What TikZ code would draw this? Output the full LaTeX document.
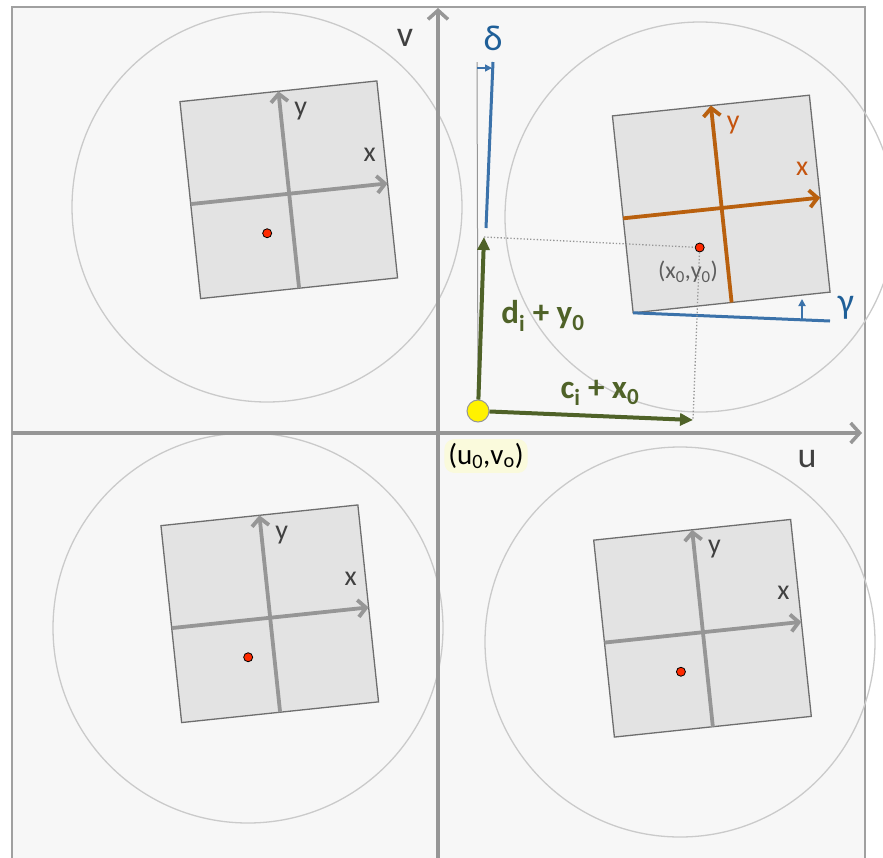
\documentclass[tikz,border=0pt]{standalone}
\usepackage{fontspec}
\setmainfont{Carlito}
\usetikzlibrary{arrows.meta}
\definecolor{panelbg}{HTML}{F7F7F7}
\definecolor{bordergray}{HTML}{A0A0A0}
\definecolor{axisgray}{HTML}{969696}
\definecolor{ringgray}{HTML}{CACACA}
\definecolor{sqfill}{HTML}{E3E3E3}
\definecolor{sqedge}{HTML}{6E6E6E}
\definecolor{dotred}{HTML}{FF2A00}
\definecolor{olivegreen}{HTML}{4F6228}
\definecolor{orangeaxis}{HTML}{B9600E}
\definecolor{orangelbl}{HTML}{C5540F}
\definecolor{bluegeo}{HTML}{3B72AA}
\definecolor{bluelbl}{HTML}{1F5F98}
\definecolor{txtgray}{HTML}{404040}
\definecolor{glow}{HTML}{FAFADC}
\newcommand\lsub[1]{\textsubscript{#1}}
\tikzset{
  panel/.style={fill=panelbg, draw=bordergray, line width=2},
  mainaxis/.style={draw=axisgray, line width=3.5, -{Straight Barb[length=9,width=20]}},
  ring/.style={draw=ringgray, line width=1.3},
  sqbox/.style={fill=sqfill, draw=sqedge, line width=1.3},
  sqaxis/.style={line width=3.8, -{Straight Barb[length=8,width=17]}},
  reddot/.style={circle, fill=dotred, draw=black, line width=0.8, inner sep=0, minimum size=9},
  sqlbl/.style={font=\fontsize{28}{30}\selectfont},
  axlbl/.style={text=txtgray, font=\fontsize{36}{40}\selectfont},
  greenarr/.style={draw=olivegreen, line width=4, -{Triangle[length=13,width=12]}},
  greenlbl/.style={text=olivegreen, font=\bfseries\fontsize{33}{36}\selectfont},
  blueline/.style={draw=bluegeo, line width=3},
  bluearr/.style={draw=bluegeo, line width=1.8, -{Triangle[length=7,width=7]}},
  bluelabel/.style={text=bluelbl, font=\fontsize{36}{40}\selectfont},
  dotline/.style={draw=axisgray, line width=1.3, dotted},
}
\newcommand\sqframe[5]{%
  \begin{scope}[shift={(#1,#2)}]
    \begin{scope}[rotate=6]
      \draw[sqbox] (-99,-99) rectangle (99,99);
      \draw[sqaxis,draw=#3] (-99,4) -- (99,4);
      \draw[sqaxis,draw=#3] (0,99) -- (0,-99);
      \node[reddot] (#5-dot) at (-26,41) {};
      \coordinate (#5-bl) at (-99,99);
    \end{scope}
    \node[sqlbl,text=#4] (#5-x) at (81,-35) {x};
    \node[sqlbl,text=#4] (#5-y) at (12,-79) {y};
  \end{scope}}
\begin{document}
\begin{tikzpicture}[x=1pt,y=-1pt]
\useasboundingbox (0,0) rectangle (883,857);
\clip (0,0) rectangle (883,857);
% panel
\draw[panel] (12,7) rectangle (865,880);
% circles
\draw[ring] (267,207) circle[radius=195];
\draw[ring] (700,217) circle[radius=195];
\draw[ring] (248,628) circle[radius=195];
\draw[ring] (680,642) circle[radius=195];
% main axes
\coordinate (vbot) at (438,870);
\coordinate (vtop) at (438,8);
\coordinate (uleft) at (12,433);
\coordinate (uright) at (862,433);
\draw[mainaxis] (vbot) -- (vtop);
\draw[mainaxis] (uleft) -- (uright);
\node[axlbl] (vlbl) at (405,38) {v};
\node[axlbl] (ulbl) at (807,459) {u};
% squares
\sqframe{288.75}{189.75}{axisgray}{txtgray}{TL}
\sqframe{721.25}{204}{orangeaxis}{orangelbl}{TR}
\sqframe{269.75}{613.75}{axisgray}{txtgray}{BL}
\sqframe{702.5}{628.25}{axisgray}{txtgray}{BR}
% gamma
\coordinate (gend) at (830,321);
\coordinate (gbase) at (802,319);
\coordinate (gtip) at (802,299);
\draw[blueline] (TR-bl) -- (gend);
\draw[bluearr] (gbase) -- (gtip);
\node[bluelabel] (gamma) at (846,308) {γ};
% origin and green vectors
\node[circle, fill=yellow, draw=axisgray, line width=1, minimum size=22, inner sep=0] (o) at (478,411) {};
\coordinate (dtip) at (484,237);
\coordinate (ctip) at (693,420);
% delta
\coordinate (deltatop) at (493,62);
\coordinate (deltabot) at (486,228);
\coordinate (thintop) at (477,62);
\coordinate (darrs) at (477,68);
\coordinate (darre) at (492,68);
\draw[draw=axisgray, line width=1] (thintop) -- (o.north);
\draw[blueline] (deltabot) -- (deltatop);
\draw[bluearr, line width=1.5] (darrs) -- (darre);
\node[bluelabel] (delta) at (493,38) {δ};
% dotted projections
\draw[dotline] (dtip) -- (TR-dot);
\draw[dotline] (TR-dot) -- (ctip);
\draw[greenarr] (o) -- (dtip);
\draw[greenarr] (o) -- (ctip);
\node[greenlbl] (dlbl) at (543,316) {d\lsub{i} + y\lsub{0}};
\node[greenlbl] (clbl) at (600,393) {c\lsub{i} + x\lsub{0}};
\node[font=\fontsize{29}{31}\selectfont, fill=glow, rounded corners=10, inner sep=4] (uv) at (486,456) {(u\lsub{0},v\lsub{o})};
\node[text=txtgray!85, font=\fontsize{24}{26}\selectfont] (xy) at (688,272) {(x\lsub{0},y\lsub{0})};
\end{tikzpicture}
\end{document}
